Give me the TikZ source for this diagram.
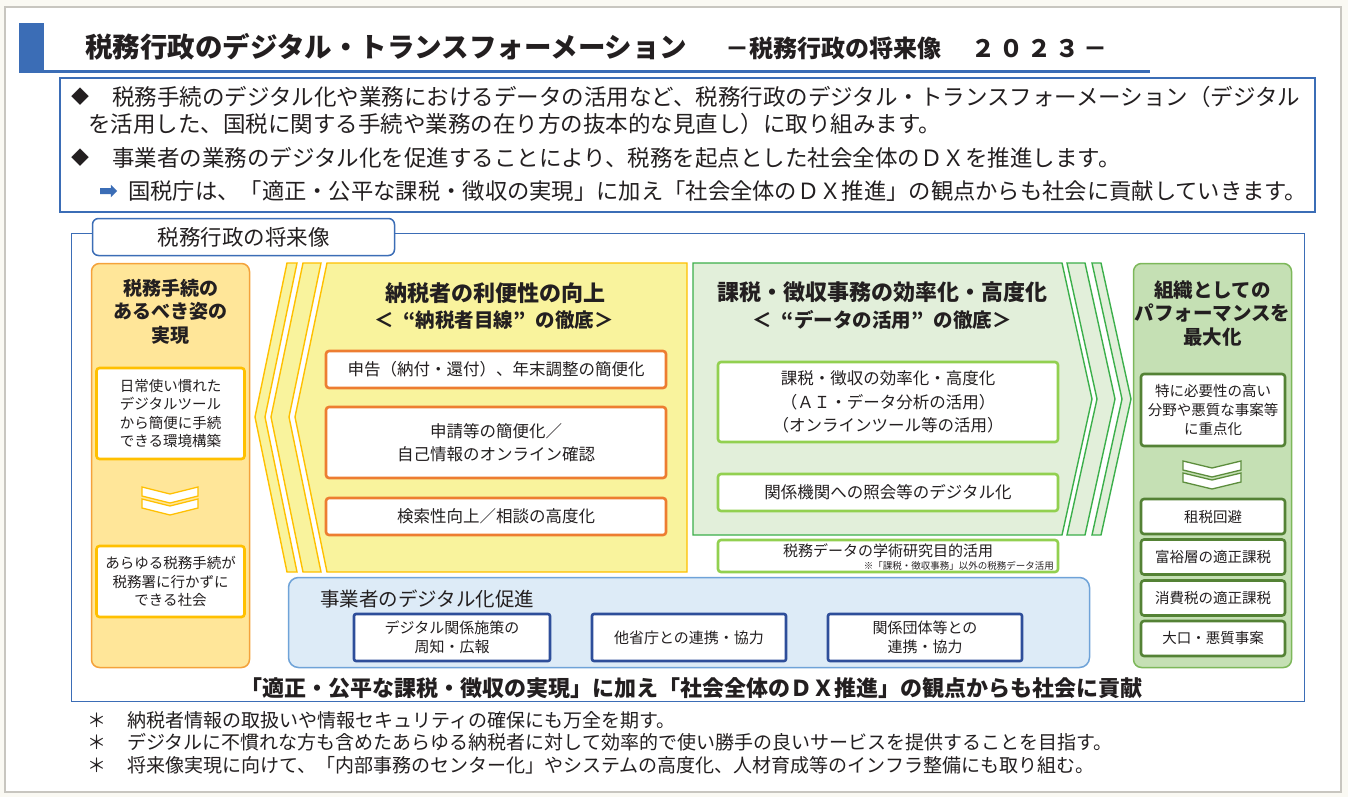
\documentclass[tikz,border=0pt]{standalone}
\usepackage{fontspec}
\setmainfont{Noto Sans CJK JP}
\usetikzlibrary{shapes.arrows}
\definecolor{dxblue}{HTML}{3B6DB6}
\definecolor{pagecream}{HTML}{FAF9F3}
\definecolor{pagegray}{HTML}{C8C6C0}
\definecolor{inktext}{HTML}{231F20}
\definecolor{orangefill}{HTML}{FFE699}
\definecolor{orangeedge}{HTML}{F4A23B}
\definecolor{gold}{HTML}{FFC000}
\definecolor{yellowfill}{HTML}{F9F39D}
\definecolor{orangebox}{HTML}{ED7D31}
\definecolor{greenfill}{HTML}{E2EFDA}
\definecolor{greenedge}{HTML}{3CAF4B}
\definecolor{limebox}{HTML}{92D050}
\definecolor{sagefill}{HTML}{C5E0B4}
\definecolor{sageedge}{HTML}{7DB85A}
\definecolor{darkgreen}{HTML}{548235}
\definecolor{bluefill}{HTML}{DDEBF7}
\definecolor{blueedge}{HTML}{6FA3D8}
\definecolor{navybox}{HTML}{2E4E9A}
\newcommand{\jfs}[2]{\fontsize{#1}{#2}\selectfont}
\tikzstyle{txt}=[inner sep=0pt,text=inktext]
\tikzstyle{column}=[rectangle,rounded corners=8pt,line width=1.5pt,
                    inner sep=0pt]
\tikzstyle{itembox}=[rectangle,rounded corners=3pt,line width=2.6pt,
                     fill=white,inner sep=0pt,align=center,text=inktext]
\tikzstyle{strip}=[line width=1.4pt,line join=miter]
\begin{document}
\begin{tikzpicture}[x=1pt,y=-1pt]
    \newcommand{\chevpair}[4]{% left x, right x, top y, colour
      \foreach \dy in {0,12}{
        \filldraw[draw=#4,fill=white,line width=1.3pt]
          (#1,#3+\dy) -- ({(#1+#2)/2},#3+\dy+7) -- (#2,#3+\dy)
          -- (#2,#3+\dy+9) -- ({(#1+#2)/2},#3+\dy+16) -- (#1,#3+\dy+9) -- cycle;}}
    \useasboundingbox (0,0) rectangle (1348,797);
    \fill[pagecream] (0,0) rectangle (1348,797);
    \filldraw[draw=pagegray,fill=white,line width=1.2pt] (5,7) rectangle (1341,792);

    % title
    \fill[dxblue] (19,23) rectangle (44,73);
    \fill[dxblue] (19,70) rectangle (1150,73);
    \node (title) at (85,58) [txt,anchor=base west]{{\jfs{27.5}{30}\bfseries 税務行政のデジタル・トランスフォーメーション}\hspace{38pt}{\jfs{24}{28}\bfseries －税務行政の将来像\hspace{30pt}２\hspace{4pt}０\hspace{4pt}２\hspace{4pt}３\hspace{4pt}－}};

    % summary
    \node (topbox) at (687.5,145) [rectangle,draw=dxblue,line width=2pt,fill=white,
                                  minimum width=1255pt,minimum height=134pt]{};
    \node (d1) at (80,97) [txt,font={\jfs{18}{20}}]{◆};
    \node (t1) at (112,97) [txt,anchor=west,font={\jfs{22.5}{26}}]{税務手続のデジタル化や業務におけるデータの活用など、税務行政のデジタル・トランスフォーメーション（デジタル};
    \node (t2) at (88,124) [txt,anchor=west,font={\jfs{22.5}{26}}]{を活用した、国税に関する手続や業務の在り方の抜本的な見直し）に取り組みます。};
    \node (d2) at (80,158) [txt,font={\jfs{18}{20}}]{◆};
    \node (t3) at (112,158) [txt,anchor=west,font={\jfs{22.5}{26}}]{事業者の業務のデジタル化を促進することにより、税務を起点とした社会全体のＤＸを推進します。};
    \node (arr) at (107,191) [single arrow,fill=dxblue,inner sep=2.8pt,minimum height=17pt,
                             single arrow head extend=3.2pt]{};
    \node (t4) at (128,191) [txt,anchor=west,font={\jfs{22.3}{26}}]{国税庁は、「適正・公平な課税・徴収の実現」に加え「社会全体のＤＸ推進」の観点からも社会に貢献していきます。};

    % frame and tab
    \draw[dxblue,line width=1pt] (71,233) rectangle (1304,701);
    \node (tab) at (243.5,237) [txt,rectangle,rounded corners=6pt,draw=dxblue,line width=1.5pt,
                               fill=white,minimum width=302pt,minimum height=37pt,
                               font={\jfs{21.5}{24}}]{税務行政の将来像};

    % left column
    \node (colL) at (170.5,465.5) [column,draw=orangeedge,fill=orangefill,
                                  minimum width=158pt,minimum height=404pt]{};
    \node (tiL) at (170.5,311.5) [txt,align=center,font={\jfs{19}{23.5}\bfseries}]{税務手続の\\あるべき姿の\\実現};
    \node (bL1) at (170.5,413.5) [itembox,draw=gold,minimum width=148pt,minimum height=91pt,
                                 font={\jfs{14.5}{18.3}}]{日常使い慣れた\\デジタルツール\\から簡便に手続\\できる環境構築};
    \chevpair{142}{198}{487}{gold}
    \node (bL2) at (170.5,581.5) [itembox,draw=gold,minimum width=148pt,minimum height=71pt,
                                 font={\jfs{14.5}{18.5}}]{あらゆる税務手続が\\税務署に行かずに\\できる社会};

    % taxpayer convenience
    \filldraw[strip,draw=gold,fill=yellowfill] (287,263) -- (297,263) -- (265,417) -- (297,572)
        -- (287,572) -- (255,417) -- cycle;
    \filldraw[strip,draw=gold,fill=yellowfill] (303,263) -- (321,263) -- (289,417) -- (321,572)
        -- (303,572) -- (271,417) -- cycle;
    \filldraw[strip,draw=gold,fill=yellowfill] (327,263) -- (687,263) -- (687,572) -- (327,572)
        -- (295,417) -- cycle;
    \node (tiM) at (495,293) [txt,font={\jfs{22}{26}\bfseries}]{納税者の利便性の向上};
    \node (subM) at (494,320) [txt,font={\jfs{19.5}{24}\bfseries}]{＜\hspace{10pt}“納税者目線”\hspace{10pt}の徹底＞};
    \node (bM1) at (496,369.5) [itembox,draw=orangebox,minimum width=340pt,minimum height=37pt,
                               font={\jfs{16.5}{20}}]{申告（納付・還付）、年末調整の簡便化};
    \node (bM2) at (496,442.5) [itembox,draw=orangebox,minimum width=340pt,minimum height=71pt,
                               font={\jfs{16.5}{23}}]{申請等の簡便化／\\自己情報のオンライン確認};
    \node (bM3) at (496,516.5) [itembox,draw=orangebox,minimum width=340pt,minimum height=37pt,
                               font={\jfs{16.5}{20}}]{検索性向上／相談の高度化};

    % efficiency of assessment and collection
    \filldraw[strip,draw=greenedge,fill=greenfill] (693,263) -- (1062,263) -- (1092,399) -- (1062,535)
        -- (693,535) -- cycle;
    \filldraw[strip,draw=greenedge,fill=greenfill] (1067,263) -- (1085,263) -- (1115,399) -- (1085,535)
        -- (1067,535) -- (1097,399) -- cycle;
    \filldraw[strip,draw=greenedge,fill=greenfill] (1092,263) -- (1101,263) -- (1131,399) -- (1101,535)
        -- (1092,535) -- (1122,399) -- cycle;
    \node (tiG) at (882,292) [txt,font={\jfs{22}{26}\bfseries}]{課税・徴収事務の効率化・高度化};
    \node (subG) at (882,320) [txt,font={\jfs{19.5}{24}\bfseries}]{＜\hspace{10pt}“データの活用”\hspace{10pt}の徹底＞};
    \node (bG1) at (888,402) [itembox,draw=limebox,minimum width=340pt,minimum height=80pt,
                             font={\jfs{16.5}{23.5}}]{課税・徴収の効率化・高度化\\（ＡＩ・データ分析の活用）\\（オンラインツール等の活用）};
    \node (bG2) at (888,492.5) [itembox,draw=limebox,minimum width=340pt,minimum height=37pt,
                               font={\jfs{16.5}{20}}]{関係機関への照会等のデジタル化};
    \node (bG3) at (888,556) [itembox,draw=limebox,minimum width=340pt,minimum height=32pt]{};
    \node (tG3) at (888,551) [txt,font={\jfs{15}{18}}]{税務データの学術研究目的活用};
    \node (nG3) at (1054,566) [txt,anchor=east,font={\jfs{9.5}{11}}]{※「課税・徴収事務」以外の税務データ活用};

    % right column
    \node (colR) at (1212.5,465.5) [column,draw=sageedge,fill=sagefill,
                                   minimum width=158pt,minimum height=404pt]{};
    \node (tiR) at (1212.5,313.5) [txt,align=center,font={\jfs{19.5}{23.5}\bfseries}]{組織としての\\パフォーマンスを\\最大化};
    \node (bR1) at (1213,410) [itembox,draw=darkgreen,minimum width=144pt,minimum height=72pt,
                              font={\jfs{14.5}{19}}]{特に必要性の高い\\分野や悪質な事案等\\に重点化};
    \chevpair{1183}{1241}{461}{darkgreen!80!sageedge}
    \node (bR2) at (1213,516.5) [itembox,draw=darkgreen,minimum width=144pt,minimum height=35pt,
                                font={\jfs{14.5}{18}}]{租税回避};
    \node (bR3) at (1213,557) [itembox,draw=darkgreen,minimum width=144pt,minimum height=35pt,
                              font={\jfs{14.5}{18}}]{富裕層の適正課税};
    \node (bR4) at (1213,598) [itembox,draw=darkgreen,minimum width=144pt,minimum height=35pt,
                              font={\jfs{14.5}{18}}]{消費税の適正課税};
    \node (bR5) at (1213,638.5) [itembox,draw=darkgreen,minimum width=144pt,minimum height=35pt,
                                font={\jfs{14.5}{18}}]{大口・悪質事案};

    % business digitalisation
    \node (colB) at (689,622.5) [column,rounded corners=10pt,draw=blueedge,fill=bluefill,
                                minimum width=801pt,minimum height=90pt]{};
    \node (tiB) at (320,599) [txt,anchor=west,font={\jfs{19.5}{22}}]{事業者のデジタル化促進};
    \node (bB1) at (452,637.5) [itembox,rounded corners=2pt,draw=navybox,minimum width=196pt,
                               minimum height=47pt,font={\jfs{15}{19}}]{デジタル関係施策の\\周知・広報};
    \node (bB2) at (689,637.5) [itembox,rounded corners=2pt,draw=navybox,minimum width=194pt,
                               minimum height=47pt,font={\jfs{15}{19}}]{他省庁との連携・協力};
    \node (bB3) at (925,637.5) [itembox,rounded corners=2pt,draw=navybox,minimum width=194pt,
                               minimum height=47pt,font={\jfs{15}{19}}]{関係団体等との\\連携・協力};

    \node (stmt) at (691,688) [txt,font={\jfs{22}{26}\bfseries}]{「適正・公平な課税・徴収の実現」に加え「社会全体のＤＸ推進」の観点からも社会に貢献};

    % notes
    \node (a1) at (97,720) [txt,font={\jfs{19}{22}}]{＊};
    \node (f1) at (127,720) [txt,anchor=west,font={\jfs{19}{22}}]{納税者情報の取扱いや情報セキュリティの確保にも万全を期す。};
    \node (a2) at (97,742.5) [txt,font={\jfs{19}{22}}]{＊};
    \node (f2) at (127,742.5) [txt,anchor=west,font={\jfs{19}{22}}]{デジタルに不慣れな方も含めたあらゆる納税者に対して効率的で使い勝手の良いサービスを提供することを目指す。};
    \node (a3) at (97,765) [txt,font={\jfs{19}{22}}]{＊};
    \node (f3) at (127,765) [txt,anchor=west,font={\jfs{19}{22}}]{将来像実現に向けて、「内部事務のセンター化」やシステムの高度化、人材育成等のインフラ整備にも取り組む。};
\end{tikzpicture}
\end{document}
